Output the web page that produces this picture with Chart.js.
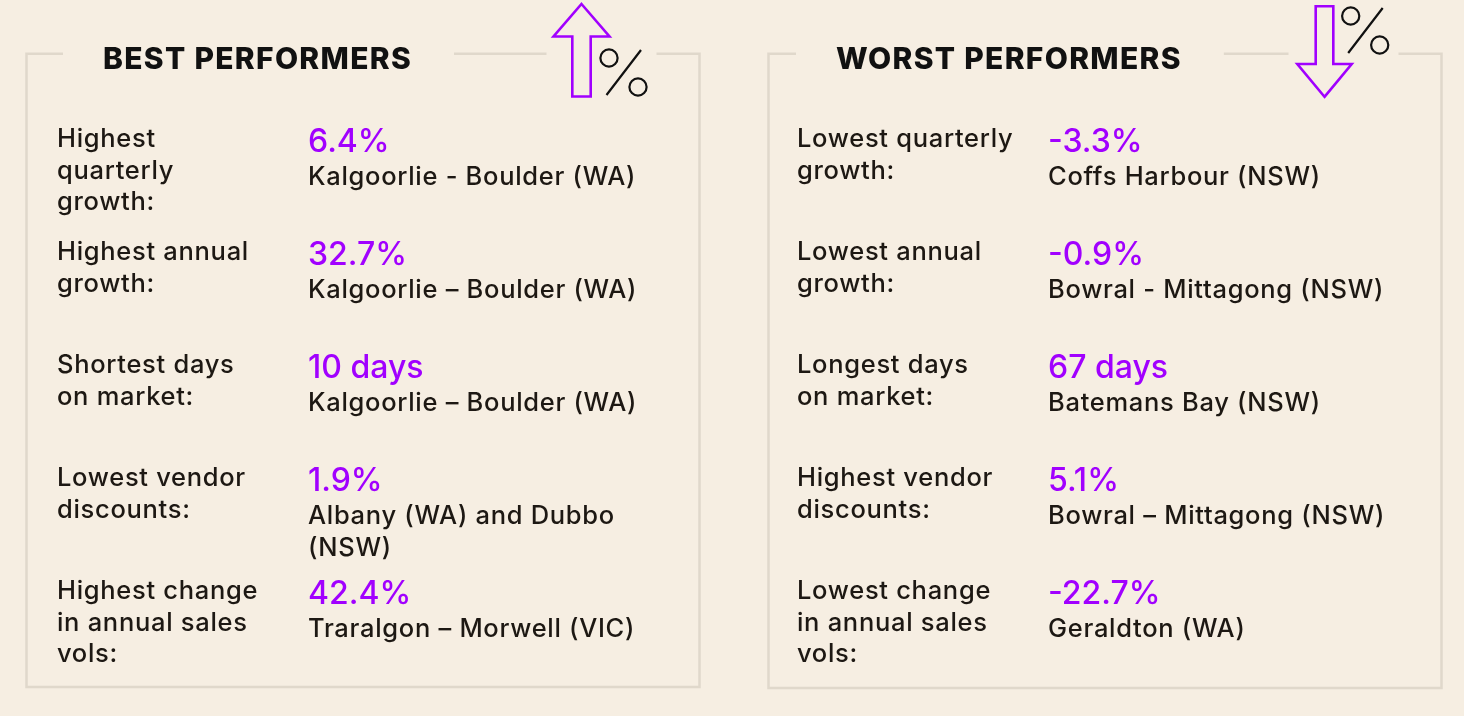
<!DOCTYPE html>
<html>
<head>
<meta charset="utf-8">
<script src="https://cdn.jsdelivr.net/npm/chart.js@4"></script>
<style>
  html, body { margin: 0; padding: 0; background: #f6eee2; }
  #wrap { width: 1464px; height: 716px; position: relative; }
  canvas { display: block; }
</style>
</head>
<body>
<div id="wrap"><canvas id="c" width="1464" height="716"></canvas></div>
<script>
// ---------- data ----------
const panelTitles = ["BEST PERFORMERS", "WORST PERFORMERS"];
const rowKeys = ["quarterly", "annual", "days", "vendor", "sales"];

const bestLabels = [
  ["Highest", "quarterly", "growth:"],
  ["Highest annual", "growth:"],
  ["Shortest days", "on market:"],
  ["Lowest vendor", "discounts:"],
  ["Highest change", "in annual sales", "vols:"]
];
const bestValues = ["6.4%", "32.7%", "10 days", "1.9%", "42.4%"];
const bestPlaces = [
  ["Kalgoorlie - Boulder (WA)"],
  ["Kalgoorlie \u2013 Boulder (WA)"],
  ["Kalgoorlie \u2013 Boulder (WA)"],
  ["Albany (WA) and Dubbo", "(NSW)"],
  ["Traralgon \u2013 Morwell (VIC)"]
];

const worstLabels = [
  ["Lowest quarterly", "growth:"],
  ["Lowest annual", "growth:"],
  ["Longest days", "on market:"],
  ["Highest vendor", "discounts:"],
  ["Lowest change", "in annual sales", "vols:"]
];
const worstValues = ["-3.3%", "-0.9%", "67 days", "5.1%", "-22.7%"];
const worstPlaces = [
  ["Coffs Harbour (NSW)"],
  ["Bowral - Mittagong (NSW)"],
  ["Batemans Bay (NSW)"],
  ["Bowral \u2013 Mittagong (NSW)"],
  ["Geraldton (WA)"]
];

// ---------- style ----------
const BG = "#f6eee2";
const FRAME = "#e0d8cb";
const PURPLE = "#a100ff";
const INK = "#1d1813";
const FONT = "Inter, 'Noto Sans', sans-serif";

const panels = [
  { left: 26.5, right: 699.5, top: 53.8, bottom: 687, titleX: 103, labelX: 57, valueX: 308,
    title: panelTitles[0], labels: bestLabels, values: bestValues, places: bestPlaces, dir: "up",
    arrowX: 581.5, pctX: 609, pctY: 58 },
  { left: 768.5, right: 1441.5, top: 53.8, bottom: 688, titleX: 836, labelX: 797, valueX: 1048,
    title: panelTitles[1], labels: worstLabels, values: worstValues, places: worstPlaces, dir: "down",
    arrowX: 1324.5, pctX: 1350.7, pctY: 16 }
];

function setSpacing(ctx, px) {
  if ("letterSpacing" in ctx) ctx.letterSpacing = px + "px";
}

const infographic = {
  id: "infographic",
  beforeDraw(chart) {
    const ctx = chart.ctx;
    ctx.save();
    ctx.fillStyle = BG;
    ctx.fillRect(0, 0, chart.width, chart.height);
    ctx.restore();
  },
  afterDraw(chart) {
    const ctx = chart.ctx;
    const ys = chart.scales.y;
    ctx.save();
    panels.forEach(p => {
      // title
      ctx.font = "800 30px " + FONT;
      setSpacing(ctx, 1.3);
      ctx.fillStyle = "#111";
      ctx.textBaseline = "alphabetic";
      ctx.textAlign = "left";
      const tw = ctx.measureText(p.title).width;
      ctx.fillText(p.title, p.titleX, 68.5);
      const gapL = p.titleX - 40, gapR = p.titleX + tw + 42;
      const aGapL = p.left + 520, aGapR = p.left + 630;

      // frame
      ctx.strokeStyle = FRAME;
      ctx.lineWidth = 2.5;
      ctx.beginPath();
      ctx.moveTo(gapL, p.top); ctx.lineTo(p.left, p.top);
      ctx.lineTo(p.left, p.bottom); ctx.lineTo(p.right, p.bottom);
      ctx.lineTo(p.right, p.top); ctx.lineTo(aGapR, p.top);
      ctx.moveTo(aGapL, p.top); ctx.lineTo(gapR, p.top);
      ctx.stroke();

      // arrow
      ctx.strokeStyle = PURPLE;
      ctx.lineWidth = 2.6;
      ctx.lineJoin = "miter";
      ctx.beginPath();
      const ax = p.arrowX;
      if (p.dir === "up") {
        ctx.moveTo(ax, 4);
        ctx.lineTo(ax + 28, 36.5);
        ctx.lineTo(ax + 9.2, 36.5);
        ctx.lineTo(ax + 9.2, 96.5);
        ctx.lineTo(ax - 9.2, 96.5);
        ctx.lineTo(ax - 9.2, 36.5);
        ctx.lineTo(ax - 28, 36.5);
      } else {
        ctx.moveTo(ax, 96.8);
        ctx.lineTo(ax + 27.2, 64);
        ctx.lineTo(ax + 8.8, 64);
        ctx.lineTo(ax + 8.8, 6.3);
        ctx.lineTo(ax - 8.8, 6.3);
        ctx.lineTo(ax - 8.8, 64);
        ctx.lineTo(ax - 27.2, 64);
      }
      ctx.closePath();
      ctx.stroke();

      // percent icon
      ctx.strokeStyle = "#111";
      ctx.lineWidth = 2.2;
      ctx.beginPath();
      ctx.arc(p.pctX, p.pctY, 8.6, 0, Math.PI * 2);
      ctx.moveTo(p.pctX + 29 + 8.6, p.pctY + 29);
      ctx.arc(p.pctX + 29, p.pctY + 29, 8.6, 0, Math.PI * 2);
      ctx.moveTo(p.pctX - 2.5, p.pctY + 37);
      ctx.lineTo(p.pctX + 32, p.pctY - 8);
      ctx.stroke();

      // rows
      p.labels.forEach((lines, i) => {
        const base = ys.getPixelForValue(i);
        ctx.font = "500 25.5px " + FONT;
        setSpacing(ctx, 0.7);
        ctx.fillStyle = INK;
        lines.forEach((t, k) => ctx.fillText(t, p.labelX, base + k * 31.7));
        ctx.font = "500 32px " + FONT;
        setSpacing(ctx, 0);
        ctx.fillStyle = PURPLE;
        ctx.fillText(p.values[i], p.valueX, base + 5);
        ctx.font = "500 25.5px " + FONT;
        setSpacing(ctx, 0.7);
        ctx.fillStyle = INK;
        p.places[i].forEach((t, k) => ctx.fillText(t, p.valueX, base + 38 + k * 31.7));
      });
    });
    ctx.restore();
  }
};

new Chart(document.getElementById("c"), {
  type: "bar",
  data: { labels: rowKeys, datasets: [] },
  options: {
    responsive: false,
    animation: false,
    events: [],
    layout: { padding: { top: 90.5, bottom: 60.5, left: 0, right: 0 } },
    plugins: { legend: { display: false }, tooltip: { enabled: false } },
    scales: {
      y: { type: "category", labels: rowKeys, offset: true, display: false },
      x: { type: "linear", min: 0, max: 1, display: false }
    }
  },
  plugins: [infographic]
});
</script>
</body>
</html>
